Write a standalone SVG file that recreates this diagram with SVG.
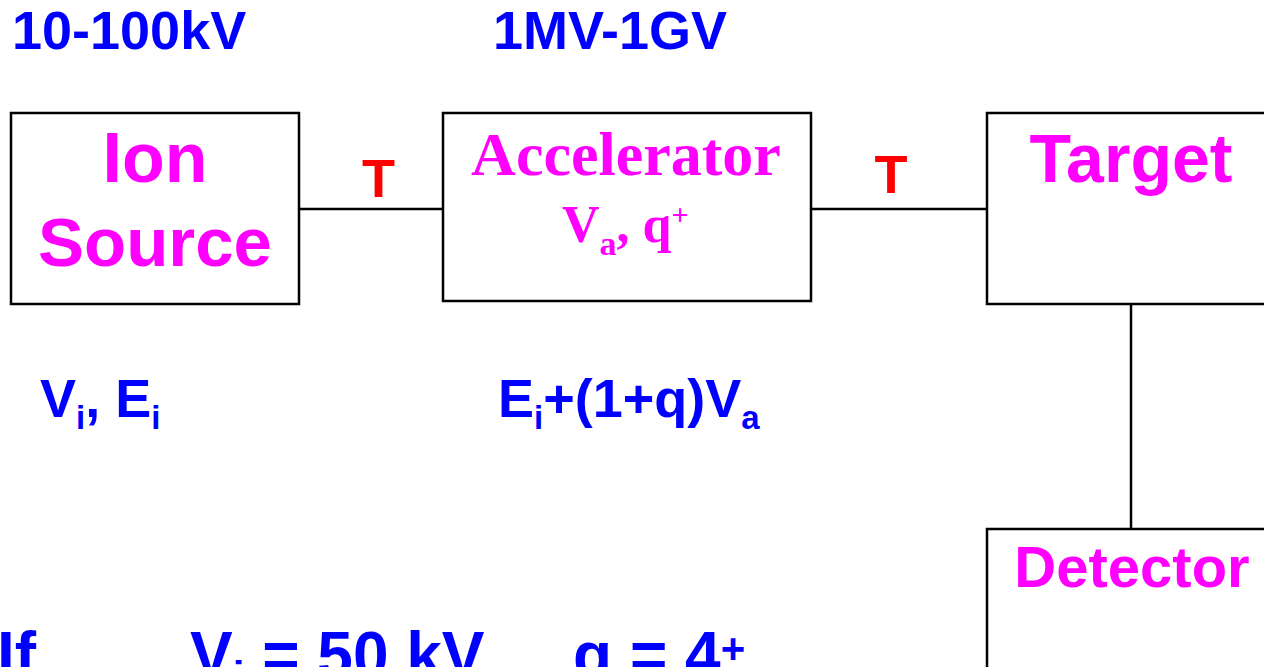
<svg xmlns="http://www.w3.org/2000/svg" width="1264" height="667" viewBox="0 0 1264 667">
<style>
.box{fill:#fff;stroke:#000;stroke-width:2.5}
.ln{stroke:#000;stroke-width:2.5;fill:none}
.blue{font-family:"Liberation Sans",Arial,sans-serif;font-weight:bold;fill:#0000FF;font-size:54px}
.big{font-size:64px}
.mag{font-family:"Liberation Sans",Arial,sans-serif;font-weight:bold;fill:#FF00FF}
.magS{font-family:"Liberation Serif","Times New Roman",serif;font-weight:bold;fill:#FF00FF}
.red{font-family:"Liberation Sans",Arial,sans-serif;font-weight:bold;fill:#FF0000;font-size:54px;text-anchor:middle}
</style>
<rect width="1264" height="667" fill="#fff"/>
<g id="connectors">
<line class="ln" x1="299" y1="209" x2="443" y2="209"/>
<line class="ln" x1="811" y1="209" x2="987" y2="209"/>
<line class="ln" x1="1131" y1="304" x2="1131" y2="529"/>
</g>
<g id="ion-source">
<rect class="box" x="11" y="113" width="288" height="191"/>
<text class="mag" x="155" y="182" font-size="70" text-anchor="middle">Ion</text>
<text class="mag" x="155" y="266" font-size="69" text-anchor="middle">Source</text>
</g>
<g id="accelerator">
<rect class="box" x="443" y="113" width="368" height="188"/>
<text class="magS" x="626" y="175" font-size="62" text-anchor="middle">Accelerator</text>
<text class="magS" x="562" y="242" font-size="52">V<tspan font-size="34" dy="13">a</tspan><tspan dy="-13">, q</tspan><tspan font-size="30" dy="-17">+</tspan></text>
</g>
<g id="target">
<rect class="box" x="987" y="113" width="300" height="191"/>
<text class="mag" x="1131" y="182" font-size="68" text-anchor="middle">Target</text>
</g>
<g id="detector">
<rect class="box" x="987" y="529" width="300" height="160"/>
<text class="mag" x="1132" y="587" font-size="58" text-anchor="middle">Detector</text>
</g>
<g id="labels">
<text class="blue" x="12" y="49" font-size="52">10-100kV</text>
<text class="blue" x="493" y="49" font-size="52">1MV-1GV</text>
<text class="red" x="378.5" y="197">T</text>
<text class="red" x="891" y="193">T</text>
<text class="blue" x="40" y="417">V<tspan font-size="33" dy="12">i</tspan><tspan dy="-12">, E</tspan><tspan font-size="33" dy="12">i</tspan></text>
<text class="blue" x="498" y="417">E<tspan font-size="33" dy="12">i</tspan><tspan dy="-12">+(1+q)V</tspan><tspan font-size="33" dy="12">a</tspan></text>
<text class="blue big" x="-3" y="677">If</text>
<text class="blue big" x="190" y="677">V<tspan font-size="42" dy="14">i</tspan><tspan dy="-14"> = 50 kV</tspan></text>
<text class="blue big" x="573" y="677">q = 4<tspan font-size="42" dy="-14">+</tspan></text>
</g>
</svg>
